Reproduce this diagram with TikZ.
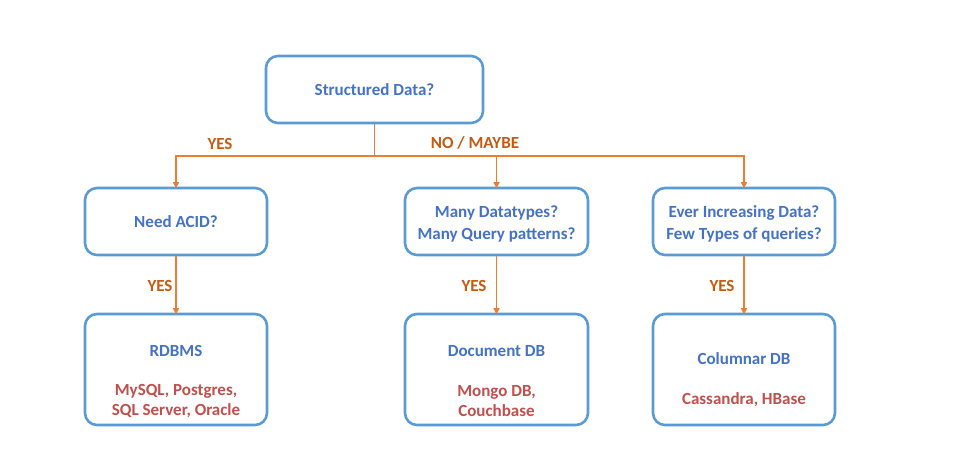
\documentclass[tikz,border=0pt]{standalone}
\usepackage{fontspec}
\setmainfont{Carlito}
\usetikzlibrary{arrows.meta}
\definecolor{boxblue}{HTML}{5B9BD5}
\definecolor{txtblue}{HTML}{4472C4}
\definecolor{txtred}{HTML}{C0504D}
\definecolor{lineorange}{HTML}{ED7D31}
\definecolor{lblorange}{HTML}{C55A11}
\tikzset{
  box/.style={draw=boxblue, line width=2.6pt, rounded corners=12pt, fill=white, inner sep=0pt},
  qtext/.style={font=\bfseries\fontsize{17}{22}\selectfont, text=txtblue, align=center},
  rtext/.style={font=\bfseries\fontsize{17}{19.5}\selectfont, text=txtred, align=center},
  lbl/.style={font=\bfseries\fontsize{17}{20}\selectfont, text=lblorange},
  conn/.style={draw=lineorange, line width=1.8pt},
  arr/.style={conn, -{Triangle[length=6pt,width=6pt]}}
}
\begin{document}
\begin{tikzpicture}[x=1pt,y=-1pt]
\useasboundingbox (0,0) rectangle (972,458);
% boxes
\node[box, minimum width=217pt, minimum height=67pt] (top) at (374.5,89.5) {};
\node[qtext] (toptxt) at (374.5,90) {Structured Data?};
\node[box, minimum width=182pt, minimum height=67pt] (acid) at (176,221.5) {};
\node[qtext] (acidtxt) at (176,222) {Need ACID?};
\node[box, minimum width=183pt, minimum height=67pt] (many) at (496.5,221.5) {};
\node[qtext] (manytxt) at (496.5,224) {Many Datatypes?\\Many Query patterns?};
\node[box, minimum width=182pt, minimum height=67pt] (ever) at (744,221.5) {};
\node[qtext] (evertxt) at (744,224) {Ever Increasing Data?\\Few Types of queries?};
\node[box, minimum width=182pt, minimum height=111pt] (rdb) at (176,369.5) {};
\node[qtext] (rdbt) at (176,351) {RDBMS};
\node[rtext] (rdbs) at (176,401) {MySQL, Postgres,\\SQL Server, Oracle};
\node[box, minimum width=183pt, minimum height=111pt] (doc) at (496.5,369.5) {};
\node[qtext] (doct) at (496.5,351) {Document DB};
\node[rtext] (docs) at (496.5,401) {Mongo DB,\\Couchbase};
\node[box, minimum width=182pt, minimum height=111pt] (col) at (744,369.5) {};
\node[qtext] (colt) at (744,359) {Columnar DB};
\node[rtext] (cols) at (744,400) {Cassandra, HBase};
% connectors
\coordinate (j) at (top.south |- 0,156);
\draw[conn] (top.south) -- (j);
\draw[arr] (j) -| ([yshift=-1.5pt]acid.north);
\draw[arr] (j) -| ([yshift=-1.5pt]many.north);
\draw[arr] (j) -| ([yshift=-1.5pt]ever.north);
\draw[arr] (acid.south) -- ([yshift=-1.5pt]rdb.north);
\draw[arr] (many.south) -- ([yshift=-1.5pt]doc.north);
\draw[arr] (ever.south) -- ([yshift=-1.5pt]col.north);
% labels
\node[lbl] (l1) at (220,144) {YES};
\node[lbl] (l2) at (475,143) {NO / MAYBE};
\node[lbl] (l3) at (160,286) {YES};
\node[lbl] (l4) at (474,286) {YES};
\node[lbl] (l5) at (722,286) {YES};
\end{tikzpicture}
\end{document}
